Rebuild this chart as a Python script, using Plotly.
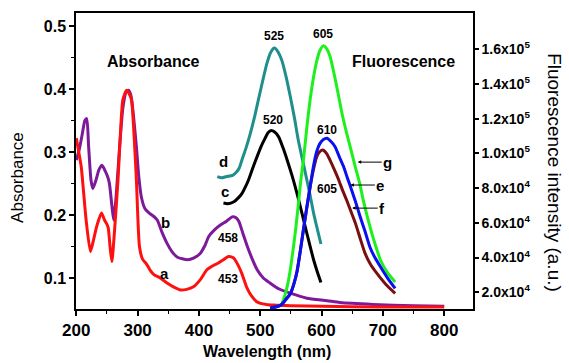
import plotly.graph_objects as go

# ---------------- data ----------------
a_x = [200, 204, 208, 212, 216, 223, 228, 233, 241, 246, 249, 252, 255, 258, 262, 268, 272, 276, 282, 286, 290, 294, 298, 303, 308, 314, 320, 327, 337, 348, 360, 370, 380, 391, 402, 413, 422, 430, 440, 448, 456, 463, 470, 478, 484, 495, 510, 522, 550, 600, 700, 800]
a_y = [0.322, 0.300, 0.277, 0.235, 0.192, 0.142, 0.160, 0.181, 0.203, 0.192, 0.187, 0.180, 0.150, 0.126, 0.170, 0.256, 0.330, 0.383, 0.398, 0.393, 0.383, 0.330, 0.256, 0.150, 0.130, 0.123, 0.113, 0.105, 0.100, 0.092, 0.085, 0.081, 0.082, 0.086, 0.097, 0.113, 0.119, 0.123, 0.129, 0.134, 0.132, 0.122, 0.107, 0.085, 0.074, 0.062, 0.058, 0.057, 0.056, 0.055, 0.054, 0.054]

b_x = [200, 205, 210, 214, 217, 220, 224, 227, 232, 237, 242, 247, 251, 254, 258, 261, 265, 270, 276, 281, 285, 289, 293, 298, 302, 306, 312, 319, 326, 332, 340, 348, 356, 365, 381, 392, 402, 410, 416, 425, 435, 445, 454, 460, 465, 472, 479, 487, 495, 505, 516, 530, 549, 576, 609, 630, 684, 750, 800]
b_y = [0.287, 0.305, 0.330, 0.350, 0.353, 0.310, 0.255, 0.242, 0.255, 0.272, 0.279, 0.270, 0.261, 0.250, 0.215, 0.192, 0.230, 0.300, 0.370, 0.395, 0.398, 0.390, 0.360, 0.308, 0.260, 0.229, 0.210, 0.203, 0.198, 0.192, 0.172, 0.155, 0.142, 0.133, 0.129, 0.132, 0.139, 0.152, 0.166, 0.176, 0.184, 0.190, 0.197, 0.196, 0.190, 0.170, 0.150, 0.130, 0.113, 0.100, 0.092, 0.083, 0.076, 0.068, 0.064, 0.061, 0.058, 0.056, 0.055]

c_x = [440, 447, 457, 465, 470, 476, 481, 488, 495, 502, 508, 513, 518, 523, 530, 537, 544, 552, 560, 568, 576, 582, 587, 593, 599]
c_y = [0.219, 0.218, 0.221, 0.228, 0.234, 0.245, 0.256, 0.275, 0.293, 0.310, 0.322, 0.331, 0.334, 0.332, 0.324, 0.307, 0.287, 0.262, 0.234, 0.203, 0.171, 0.148, 0.129, 0.110, 0.093]

d_x = [430, 437, 445, 455, 462, 466, 470, 477, 484, 491, 497, 504, 511, 517, 523, 529, 535, 542, 549, 556, 562, 569, 576, 582, 587, 593, 599]
d_y = [0.261, 0.259, 0.261, 0.263, 0.269, 0.275, 0.287, 0.307, 0.330, 0.357, 0.383, 0.413, 0.441, 0.458, 0.465, 0.459, 0.446, 0.420, 0.388, 0.353, 0.319, 0.287, 0.256, 0.228, 0.203, 0.178, 0.154]

e_x = [516, 525, 535, 542, 549, 555, 560, 565, 570, 576, 581, 587, 592, 597, 603, 609, 615, 622, 629, 636, 642, 649, 656, 663, 671, 679, 687, 696, 708, 720]
e_y = [11000, 11500, 13000, 16000, 19000, 25000, 32000, 43000, 55000, 69000, 80000, 93000, 101000, 105500, 108000, 108700, 107000, 103900, 98000, 92300, 86000, 79000, 71500, 63500, 55000, 46000, 40000, 34700, 28000, 22200]

f_x = [516, 525, 535, 542, 549, 555, 560, 565, 570, 576, 581, 587, 592, 597, 602, 608, 614, 621, 628, 634, 641, 648, 655, 663, 671, 680, 690, 705, 720]
f_y = [11000, 11500, 13000, 16000, 19000, 25000, 32000, 43000, 55000, 69000, 80000, 91000, 98000, 101000, 102000, 100000, 96000, 90500, 84700, 79000, 73000, 66500, 60000, 51000, 42400, 36000, 31000, 24500, 19400]

g_x = [535, 540, 545, 549, 553, 557, 562, 566, 571, 576, 581, 586, 592, 597, 603, 608, 614, 621, 628, 634, 641, 648, 655, 662, 668, 675, 682, 689, 696, 708, 720]
g_y = [13000, 18000, 25000, 33000, 43000, 54000, 70000, 84000, 98000, 115000, 130000, 142000, 153000, 159000, 162000, 160500, 155700, 145000, 132700, 122000, 111600, 102000, 92300, 83000, 73100, 63000, 54000, 46000, 38600, 31000, 26000]

right_tickvals = [20000, 40000, 60000, 80000, 100000, 120000, 140000, 160000]
right_ticktext = ["2.0x10<sup>4</sup>", "4.0x10<sup>4</sup>", "6.0x10<sup>4</sup>", "8.0x10<sup>4</sup>",
                  "1.0x10<sup>5</sup>", "1.2x10<sup>5</sup>", "1.4x10<sup>5</sup>", "1.6x10<sup>5</sup>"]

FONT = "Liberation Sans, Arial, sans-serif"

fig = go.Figure()
LW = 3
SM = 0.6
fig.add_trace(go.Scatter(x=d_x, y=d_y, mode="lines", line=dict(color="#1f8f8c", width=LW, shape="spline", smoothing=SM)))
fig.add_trace(go.Scatter(x=c_x, y=c_y, mode="lines", line=dict(color="#000000", width=LW, shape="spline", smoothing=SM)))
fig.add_trace(go.Scatter(x=b_x, y=b_y, mode="lines", line=dict(color="#7d1a9a", width=LW, shape="spline", smoothing=SM)))
fig.add_trace(go.Scatter(x=a_x, y=a_y, mode="lines", line=dict(color="#ff1010", width=LW, shape="spline", smoothing=SM)))
fig.add_trace(go.Scatter(x=g_x, y=g_y, yaxis="y2", mode="lines", line=dict(color="#1ef01e", width=LW, shape="spline", smoothing=SM)))
fig.add_trace(go.Scatter(x=f_x, y=f_y, yaxis="y2", mode="lines", line=dict(color="#7a0f0f", width=LW, shape="spline", smoothing=SM)))
fig.add_trace(go.Scatter(x=e_x, y=e_y, yaxis="y2", mode="lines", line=dict(color="#0a10f0", width=LW, shape="spline", smoothing=SM)))

fig.update_layout(
    width=569, height=363,
    margin=dict(l=76, r=96, t=13, b=54),
    paper_bgcolor="white", plot_bgcolor="white",
    showlegend=False,
    font=dict(family=FONT, color="black"),
    xaxis=dict(range=[199.5, 847], showgrid=False, zeroline=False,
               showline=True, linecolor="black", linewidth=1.5, mirror=True,
               ticks="outside", ticklen=5, tickwidth=1.5, tickcolor="black",
               tick0=200, dtick=100,
               minor=dict(ticks="outside", ticklen=3, tickwidth=1.2, tickcolor="black", dtick=50),
               tickfont=dict(size=17, family=FONT, weight="bold")),
    yaxis=dict(range=[0.0508, 0.5206], showgrid=False, zeroline=False,
               showline=True, linecolor="black", linewidth=1.5,
               ticks="outside", ticklen=5, tickwidth=1.5, tickcolor="black",
               tick0=0.1, dtick=0.1, tickformat=".1f",
               minor=dict(ticks="outside", ticklen=3, tickwidth=1.2, tickcolor="black", dtick=0.05),
               tickfont=dict(size=16, family=FONT, weight="bold")),
    yaxis2=dict(range=[10380, 180900], overlaying="y", side="right", showgrid=False, zeroline=False,
                showline=True, linecolor="black", linewidth=1.5,
                ticks="outside", ticklen=4, tickwidth=1.5, tickcolor="black",
                tickvals=right_tickvals, ticktext=right_ticktext,
                tickfont=dict(size=14, family=FONT, weight="bold")),
)

ann = []
# axis titles
ann.append(dict(text="Wavelength (nm)", xref="paper", yref="paper", x=0.48, y=-0.145,
                xanchor="center", yanchor="middle",
                showarrow=False, font=dict(size=16, family=FONT, weight="bold")))
ann.append(dict(text="Absorbance", xref="paper", yref="paper", x=-0.146, y=0.443, textangle=-90,
                xanchor="center", yanchor="middle",
                showarrow=False, font=dict(size=17, family=FONT)))
ann.append(dict(text="Fluorescence intensity (a.u.)", xref="paper", yref="paper", x=1.2065, y=0.459, textangle=90,
                xanchor="center", yanchor="middle",
                showarrow=False, font=dict(size=19, family=FONT)))

# in-plot labels (data coordinates on x / left y)
def lab(t, x, y, size):
    ann.append(dict(text=t, x=x, y=y, xref="x", yref="y", showarrow=False,
                    font=dict(size=size, family=FONT, weight="bold")))

lab("Absorbance", 326, 0.443, 16)
lab("Fluorescence", 733, 0.443, 16)
lab("525", 523, 0.484, 12)
lab("605", 602, 0.488, 12)
lab("520", 520, 0.351, 12)
lab("610", 609, 0.335, 12)
lab("605", 609, 0.242, 12)
lab("458", 447, 0.163, 12)
lab("453", 447, 0.098, 12)
lab("a", 344, 0.1075, 15)
lab("b", 345, 0.188, 15)
lab("c", 442, 0.237, 15)
lab("d", 440, 0.285, 15)

# arrows to fluorescence curves
def arr(t, x, y):
    ann.append(dict(text=t, x=x, y=y, xref="x", yref="y2", showarrow=True, ax=30, ay=0,
                    arrowhead=2, arrowsize=0.7, arrowwidth=1, arrowcolor="black",
                    font=dict(size=15, family=FONT, weight="bold")))

arr("g", 659, 95000)
arr("e", 647, 81800)
arr("f", 650, 68500)

fig.update_layout(annotations=ann)
fig.write_html("out.html")
